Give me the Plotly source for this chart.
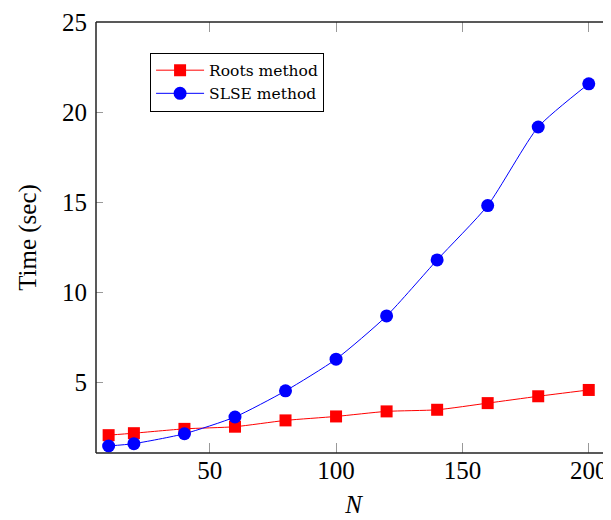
import plotly.graph_objects as go

n_values = [10, 20, 40, 60, 80, 100, 120, 140, 160, 180, 200]
roots_time = [2.06, 2.17, 2.41, 2.53, 2.88, 3.10, 3.38, 3.47, 3.84, 4.22, 4.57]
slse_time = [1.46, 1.59, 2.14, 3.07, 4.52, 6.28, 8.68, 11.79, 14.81, 19.17, 21.57]
x_ticks = [50, 100, 150, 200]
y_ticks = [5, 10, 15, 20, 25]

FONT = "Liberation Serif"

fig = go.Figure()
fig.add_trace(go.Scatter(
    x=n_values, y=roots_time, name="Roots method", mode="lines+markers",
    line=dict(color="#ff0000", width=1, shape="spline", smoothing=0.6),
    marker=dict(symbol="square", size=12, color="#ff0000"),
))
fig.add_trace(go.Scatter(
    x=n_values, y=slse_time, name="SLSE method", mode="lines+markers",
    line=dict(color="#0000ff", width=1, shape="spline", smoothing=0.6),
    marker=dict(symbol="circle", size=13, color="#0000ff"),
))

# frame (left, top, bottom) - right edge is cut off in the reference
for x0, y0, x1, y1 in [(0, 0, 0, 1), (0, 1, 1.01, 1), (0, 0, 1.01, 0)]:
    fig.add_shape(type="line", xref="paper", yref="paper", x0=x0, y0=y0, x1=x1, y1=y1,
                  line=dict(color="#222222", width=1.5), layer="above")

fig.update_layout(
    width=603, height=512,
    margin=dict(l=88, r=0, t=14, b=67, autoexpand=False),
    paper_bgcolor="white", plot_bgcolor="white",
    font=dict(family=FONT, size=25, color="black"),
    showlegend=True,
    legend=dict(
        x=0.105, y=0.929, xanchor="left", yanchor="top",
        bgcolor="white", bordercolor="black", borderwidth=1,
        font=dict(family="DejaVu Serif", size=15.5), itemwidth=48,
        tracegroupgap=0,
    ),
    xaxis=dict(
        range=[5, 208.8], tickvals=x_ticks, ticks="inside", ticklen=10,
        tickcolor="#999999", tickwidth=1.2, mirror="ticks", showline=False,
        showgrid=False, zeroline=False, tickfont=dict(size=25), automargin=False,
        title=dict(text="<i>N</i>", font=dict(size=25), standoff=12),
    ),
    yaxis=dict(
        range=[1.07, 25], tickvals=y_ticks, ticks="inside", ticklen=7,
        tickcolor="#999999", tickwidth=1.2, mirror="ticks", showline=False,
        showgrid=False, zeroline=False, tickfont=dict(size=25), automargin=False,
        ticklabelstandoff=8,
        title=dict(text="Time (sec)", font=dict(size=25), standoff=18),
    ),
)

fig.write_html("out.html")
